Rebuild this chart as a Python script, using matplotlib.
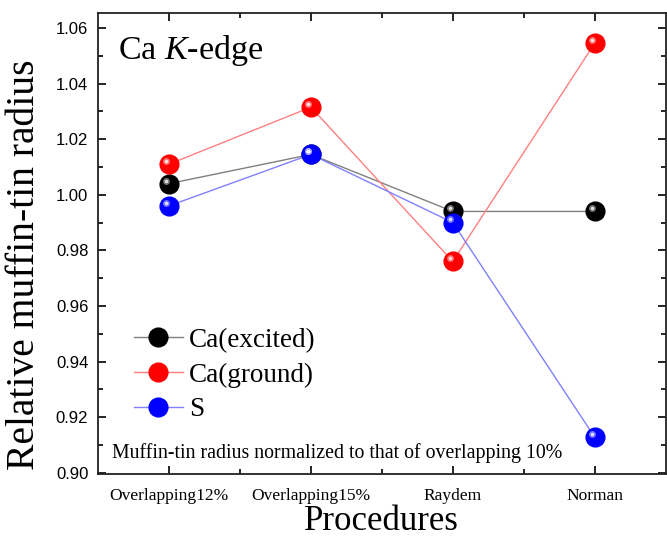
import numpy as np
import matplotlib
matplotlib.use('Agg')
import matplotlib.pyplot as plt
import matplotlib.ticker as ticker
import matplotlib.transforms as mtransforms

# data
procedures = ['Overlapping12%', 'Overlapping15%', 'Raydem', 'Norman']
ca_excited = [1.004, 1.0145, 0.994, 0.994]
ca_ground = [1.011, 1.0315, 0.976, 1.0545]
s_vals = [0.996, 1.0145, 0.990, 0.9128]

series = [('Ca(excited)', ca_excited, 'black', '#808080'),
          ('Ca(ground)', ca_ground, 'red', '#ff8080'),
          ('S', s_vals, 'blue', '#8080ff')]

serif = 'Liberation Serif'
sans = 'Liberation Sans'
plt.rcParams['mathtext.fontset'] = 'custom'
plt.rcParams['mathtext.rm'] = serif
plt.rcParams['mathtext.it'] = serif + ':italic'

fig = plt.figure(figsize=(6.67, 5.40), dpi=100)
ax = fig.add_axes([0.147, 0.122, 0.851, 0.854])

x = np.arange(len(procedures))
hl = mtransforms.offset_copy(ax.transData, fig=fig, x=-2.2, y=2.2, units='points')
for name, vals, col, lcol in series:
    ax.plot(x, vals, '-', color=lcol, lw=1.0, zorder=2)
    ax.plot(x, vals, 'o', color=col, ms=13.5, mec=col, zorder=3, label=name)
    ax.plot(x, vals, 'o', color='white', alpha=0.45, ms=5, mew=0, zorder=4, transform=hl)
    ax.plot(x, vals, 'o', color='white', alpha=0.8, ms=2.5, mew=0, zorder=5, transform=hl)

# legend with line through marker
handles = [plt.Line2D([], [], color=lcol, lw=1.0, marker='o', ms=13.5, mfc=col, mec=col)
           for name, vals, col, lcol in series]
leg = ax.legend(handles, [s[0] for s in series], loc='lower left',
                bbox_to_anchor=(0.02, 0.06), frameon=False,
                prop={'family': serif, 'size': 19.5}, handlelength=1.8,
                handletextpad=0.25, labelspacing=0.35)

ax.set_xlim(-0.5, 3.5)
ax.set_ylim(0.8995, 1.0654)
ax.set_xticks(x)
ax.set_xticklabels(procedures, fontfamily=serif, fontsize=12.5)
ax.xaxis.set_minor_locator(ticker.FixedLocator([0.5, 1.5, 2.5]))
ax.yaxis.set_major_locator(ticker.MultipleLocator(0.02))
ax.yaxis.set_minor_locator(ticker.MultipleLocator(0.01))
ax.yaxis.set_major_formatter(ticker.FormatStrFormatter('%.2f'))
for lab in ax.get_yticklabels():
    lab.set_fontfamily(sans)
    lab.set_fontsize(12)

ax.tick_params(which='both', direction='in', top=True, right=True, width=1.2)
ax.tick_params(which='major', length=6)
ax.tick_params(which='minor', length=3.5)
ax.tick_params(axis='y', pad=7)
ax.tick_params(axis='x', pad=10)
for sp in ax.spines.values():
    sp.set_linewidth(1.3)
    sp.set_color('#222222')

ax.set_ylabel('Relative muffin-tin radius', fontfamily=serif, fontsize=28.5)
ax.yaxis.set_label_coords(-0.097, 0.453)
ax.set_xlabel('Procedures', fontfamily=serif, fontsize=25, labelpad=1)

ax.text(0.035, 0.9, 'Ca $\\mathit{K}$-edge', transform=ax.transAxes,
        fontfamily=serif, fontsize=24.5)
ax.text(0.025, 0.035, 'Muffin-tin radius normalized to that of overlapping 10%',
        transform=ax.transAxes, fontfamily=serif, fontsize=14.3)

fig.savefig('out.png', dpi=100)
